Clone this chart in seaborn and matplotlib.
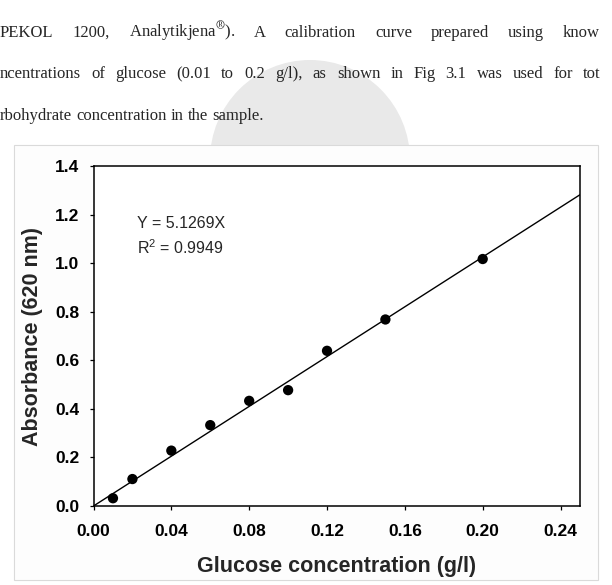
import numpy as np
import pandas as pd
import matplotlib
matplotlib.use('Agg')
import matplotlib.pyplot as plt
from matplotlib.patches import Circle, Rectangle
import seaborn as sns

# glucose standards (g/l) and their absorbance at 620 nm
glucose = [0.01, 0.02, 0.04, 0.06, 0.08, 0.10, 0.12, 0.15, 0.20]
absorbance = [0.032, 0.111, 0.228, 0.333, 0.433, 0.477, 0.639, 0.768, 1.017]

# fitted calibration line (through origin)
slope = 5.1269
r_squared = 0.9949

x_ticks = [0.00, 0.04, 0.08, 0.12, 0.16, 0.20, 0.24]
y_ticks = [0.0, 0.2, 0.4, 0.6, 0.8, 1.0, 1.2, 1.4]

# paragraph of the (cropped) page above the figure
page_lines = [
    ['PEKOL', '1200,', r'Analytikjena$^{\circledR}$).', 'A', 'calibration', 'curve',
     'prepared', 'using', 'know'],
    ['ncentrations', 'of', 'glucose', '(0.01', 'to', '0.2', 'g/l),', 'as', 'shown',
     'in', 'Fig', '3.1', 'was', 'used', 'for', 'tot'],
    ['rbohydrate', 'concentration', 'in', 'the', 'sample.'],
]

W, H = 612, 585

sns.set_style('ticks')
plt.rcParams['font.family'] = ['Liberation Sans', 'DejaVu Sans']
plt.rcParams['mathtext.fontset'] = 'custom'
plt.rcParams['mathtext.rm'] = 'Liberation Sans'
plt.rcParams['mathtext.it'] = 'Liberation Sans:italic'
plt.rcParams['mathtext.bf'] = 'Liberation Sans:bold'

fig = plt.figure(figsize=(W / 100, H / 100), dpi=100)
renderer = fig.canvas.get_renderer()

# faint watermark disc behind the page and the white panel of the figure
fig.add_artist(Circle((3.10, (H - 160) / 100), 1.0, transform=fig.dpi_scale_trans,
                      fc='#e9e9e9', ec='none', zorder=-3))
fig.add_artist(Rectangle((0.14, (H - 580) / 100), 5.84, 4.35, transform=fig.dpi_scale_trans,
                         fc='#fdfdfd', ec='#dadada', lw=0.8, zorder=-2))


def put_line(words, y, x0, x_last=None, size=12):
    # justified line: spread the words so the last one starts at x_last
    texts = [fig.text(0, 1 - y / H, w, fontsize=size, family='Liberation Serif',
                      math_fontfamily='stix', va='baseline') for w in words]
    widths = [t.get_window_extent(renderer).width for t in texts]
    if x_last is None:
        gap = 0.25 * size * 100 / 72
    else:
        gap = (x_last - x0 - sum(widths[:-1])) / (len(words) - 1)
    x = x0
    for t, w in zip(texts, widths):
        t.set_x(x / W)
        x += w + gap


put_line(page_lines[0], 37, 0, 563)
put_line(page_lines[1], 78, 0, 583)
put_line(page_lines[2], 120, 0)

ax = fig.add_axes([93.5 / W, (H - 506) / H, 486.5 / W, 340 / H])
ax.set_facecolor('white')

df = pd.DataFrame({'glucose': glucose, 'absorbance': absorbance})
sns.scatterplot(data=df, x='glucose', y='absorbance', ax=ax, color='black',
                s=55, edgecolor='none', zorder=3, legend=False)
ax.axline((0, 0), slope=slope, color='black', lw=1.0)

ax.set_xlim(0, 0.25)
ax.set_ylim(0, 1.4)
ax.set_xticks(x_ticks)
ax.set_xticklabels(['%.2f' % v for v in x_ticks])
ax.set_yticks(y_ticks)
ax.set_yticklabels(['%.1f' % v for v in y_ticks])
ax.tick_params(direction='out', length=3, width=0.9, labelsize=12.5,
               top=False, right=False, colors='black')
ax.tick_params(axis='x', pad=10)
ax.tick_params(axis='y', pad=7)
for lab in ax.get_xticklabels() + ax.get_yticklabels():
    lab.set_fontweight('bold')
for sp in ax.spines.values():
    sp.set_visible(True)
    sp.set_linewidth(1.1)
    sp.set_color('black')

ax.set_xlabel('Glucose concentration (g/l)', fontsize=15.5, fontweight='bold')
ax.set_ylabel('Absorbance (620 nm)', fontsize=15.5, fontweight='bold')
ax.xaxis.set_label_coords(0.5, -0.148)
ax.yaxis.set_label_coords(-0.104, 0.5)

ax.text(0.0225, 1.143, 'Y = %sX' % slope, fontsize=11.5)
ax.text(0.0225, 1.037, 'R$^2$ = %s' % r_squared, fontsize=11.5)

fig.savefig('out.png', dpi=100)
